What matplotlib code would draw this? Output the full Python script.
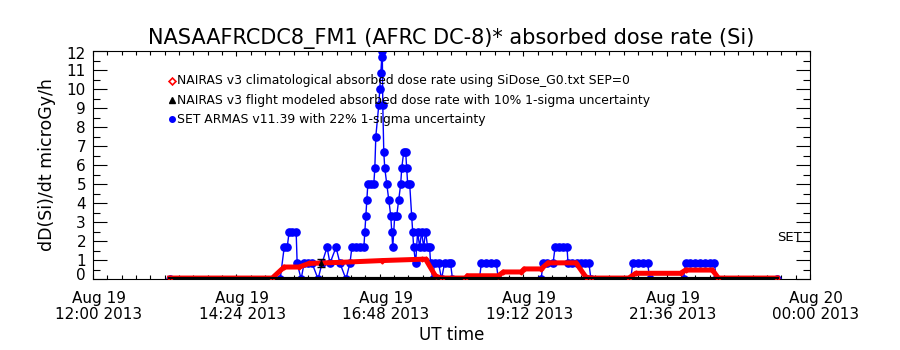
import matplotlib.pyplot as plt
import matplotlib.transforms as mtrans
import numpy as np

# ------------------------------
# data (x = minutes after 2013-08-19 12:00 UT)
# ------------------------------
clim_t = [77, 180, 192, 207, 217, 250, 290, 330, 334, 344, 350, 374, 376, 407, 412,
          430, 433, 450, 457, 485, 495, 500, 538, 545, 590, 595, 622, 628, 687]
clim_v = [0.05, 0.05, 0.63, 0.63, 0.82, 0.88, 0.97, 1.04, 1.04, 0.15, 0.05, 0.05, 0.17, 0.17, 0.37,
          0.37, 0.53, 0.53, 0.85, 0.85, 0.10, 0.05, 0.05, 0.30, 0.30, 0.47, 0.47, 0.05, 0.05]

model_t = [77, 687]
model_v = [0.0, 0.0]
model_pt_t = [229]
model_pt_v = [0.85]
model_pt_err = [0.2]

set_t = [77, 188, 192, 195, 197, 200, 204, 205, 209, 212, 216, 220, 226, 230, 235, 238,
         244, 248, 254, 258, 260, 264, 268, 272, 273, 274, 275, 276, 279, 282, 283, 284,
         287, 288, 289, 290, 290.5, 291, 292, 293, 295, 297, 299, 300, 301, 303, 305, 307,
         309, 310, 312, 314, 315, 316, 318, 320, 321, 322, 324, 326, 328, 330, 332, 334,
         336, 338, 339, 341, 343, 347, 350, 353, 357, 359, 361, 388, 390, 395, 400, 405,
         407, 450, 452, 456, 462, 464, 468, 472, 476, 477, 481, 486, 490, 494, 498, 500,
         540, 542, 547, 552, 557, 559, 593, 595, 600, 605, 610, 615, 620, 624, 626, 687]
set_v = [0, 0, 1.67, 1.67, 2.5, 2.5, 2.5, 0.83, 0, 0.83, 0.83, 0.83, 0, 0.83, 1.67, 0.83,
         1.67, 0.83, 0, 0.83, 1.67, 1.67, 1.67, 1.67, 2.5, 3.33, 4.17, 5.0, 5.0, 5.0, 5.83, 7.5,
         9.17, 10.0, 10.83, 11.67, 12.0, 9.17, 6.67, 5.83, 5.0, 4.17, 3.33, 2.5, 1.67, 3.33, 3.33, 4.17,
         5.0, 5.83, 6.67, 6.67, 5.83, 5.0, 5.0, 3.33, 2.5, 1.67, 0.83, 2.5, 1.67, 2.5, 1.67, 2.5,
         1.67, 1.67, 0.83, 0, 0.83, 0.83, 0, 0.83, 0.83, 0.83, 0, 0, 0.83, 0.83, 0.83, 0.83,
         0, 0, 0.83, 0.83, 0.83, 1.67, 1.67, 1.67, 1.67, 0.83, 0.83, 0.83, 0.83, 0.83, 0.83, 0,
         0, 0.83, 0.83, 0.83, 0.83, 0, 0, 0.83, 0.83, 0.83, 0.83, 0.83, 0.83, 0.83, 0, 0]

xtick_pos = [0, 144, 288, 432, 576, 720]
xtick_labels = ['Aug 19\n12:00 2013', 'Aug 19\n14:24 2013', 'Aug 19\n16:48 2013',
                'Aug 19\n19:12 2013', 'Aug 19\n21:36 2013', 'Aug 20\n00:00 2013']
ytick_pos = list(range(0, 13))

legend_labels = ['NAIRAS v3 climatological absorbed dose rate using SiDose_G0.txt SEP=0',
                 'NAIRAS v3 flight modeled absorbed dose rate with 10% 1-sigma uncertainty',
                 'SET ARMAS v11.39 with 22% 1-sigma uncertainty']

# ------------------------------
# figure
# ------------------------------
plt.rcParams['font.family'] = ['DejaVu Sans']
fig = plt.figure(figsize=(9, 3.5), dpi=100)
ax = fig.add_axes([93 / 900, 71 / 350, 717 / 900, 228 / 350])

ax.plot(set_t, set_v, color='#0000ff', lw=1.0, marker='o', ms=5.2, mec='#0000ff', zorder=2)
ax.plot(clim_t, clim_v, color='#ff0000', lw=3.6, solid_joinstyle='miter', zorder=3)
ax.plot(clim_t, clim_v, ls='none', marker='D', ms=2.5, mfc='none', mec='#ff0000', zorder=3)
ax.plot(model_t, model_v, color='black', lw=3, zorder=4)
ax.errorbar(model_pt_t, model_pt_v, yerr=model_pt_err, fmt='^', ms=3, color='black',
            capsize=3, elinewidth=1, zorder=5)

ax.set_xlim(0, 720)
ax.set_ylim(0, 12)
ax.set_xticks(xtick_pos)
ax.set_xticklabels(xtick_labels, fontsize=11, linespacing=1.05)
ax.set_xticks(np.arange(0, 721, 14.4), minor=True)
ax.set_yticks(ytick_pos)
ax.set_yticklabels([str(v) for v in ytick_pos], fontsize=11)
ax.set_yticks(np.arange(0, 12.01, 0.5), minor=True)

ax.tick_params(axis='x', which='major', direction='in', length=3.3, width=0.8, top=True, pad=9)
ax.tick_params(axis='x', which='minor', direction='in', length=2.6, width=0.8, top=True)
ax.tick_params(axis='y', which='major', direction='in', length=10, width=0.8, right=True, pad=5)
ax.tick_params(axis='y', which='minor', direction='in', length=5, width=0.8, right=True)
for s in ax.spines.values():
    s.set_linewidth(0.8)

# nudge labels like the original IDL output
shift_x = mtrans.ScaledTranslation(6 / 100, 0, fig.dpi_scale_trans)
for lbl in ax.get_xticklabels():
    lbl.set_transform(lbl.get_transform() + shift_x)
ylbls = ax.get_yticklabels()
ylbls[0].set_transform(ylbls[0].get_transform() + mtrans.ScaledTranslation(0, 5 / 100, fig.dpi_scale_trans))
ylbls[-1].set_transform(ylbls[-1].get_transform() + mtrans.ScaledTranslation(0, -2 / 100, fig.dpi_scale_trans))

ax.set_title('NASAAFRCDC8_FM1 (AFRC DC-8)* absorbed dose rate (Si)', fontsize=15, pad=5)
ax.set_ylabel('dD(Si)/dt microGy/h', fontsize=12.5, labelpad=8)
ax.set_xlabel('UT time', fontsize=12, labelpad=3)

# legend in the IDL style (marker + text)
leg_y = [0.87, 0.785, 0.70]
ax.plot([0.110], [leg_y[0]], marker='D', ms=3.5, mfc='none', mec='#ff0000', mew=1.2,
        transform=ax.transAxes, ls='none')
ax.plot([0.110], [leg_y[1]], marker='^', ms=4, color='black', transform=ax.transAxes, ls='none')
ax.plot([0.110], [leg_y[2]], marker='o', ms=4, color='#0000ff', transform=ax.transAxes, ls='none')
for yy, lbl in zip(leg_y, legend_labels):
    ax.text(0.117, yy, lbl, fontsize=8.9, va='center', ha='left', transform=ax.transAxes)

ax.text(0.954, 0.184, 'SET', fontsize=9.5, va='center', ha='left', transform=ax.transAxes)

plt.savefig('out.png', dpi=100)
